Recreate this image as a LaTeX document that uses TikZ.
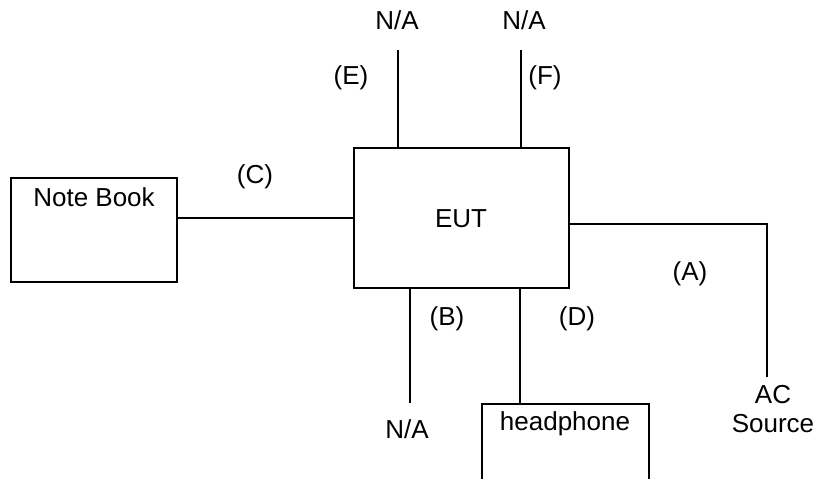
\documentclass[tikz,border=0pt]{standalone}
\usepackage{fontspec}
\setmainfont{Liberation Sans}
\usetikzlibrary{positioning}

\begin{document}
\begin{tikzpicture}[x=1pt, y=-1pt, line width=2pt,
    txt/.style={inner sep=0pt, anchor=base, font=\fontsize{26}{29}\selectfont},
    box/.style={draw, inner sep=0pt}]
    \useasboundingbox (0,0) rectangle (817,479);
    % boxes
    \node[box, minimum width=166pt, minimum height=104pt] (nb) at (94,230) {};
    \node[box, minimum width=215pt, minimum height=140pt] (eut) at (461.5,217.5) {};
    \node[box, minimum width=167pt, minimum height=100pt, anchor=north] (hp) at (565.5,403) {};
    % free ends of the cables
    \coordinate (e) at (398,50);
    \coordinate (f) at (521,50);
    \coordinate (b) at (410,403);
    \coordinate (ac) at (767,224);
    \coordinate (acend) at (767,377);
    % cables
    \draw (nb.east |- eut.west) -- (eut.west);
    \draw (eut.north -| e) -- (e);
    \draw (eut.north -| f) -- (f);
    \draw (eut.south -| b) -- (b);
    \draw (eut.south -| 520,0) -- (hp.north -| 520,0);
    \draw (eut.east |- ac) -- (ac) -- (acend);
    % texts
    \node[txt] (nbtxt) at (94,206) {Note Book};
    \node[txt] (euttxt) at (461,227) {EUT};
    \node[txt] (hptxt) at (565,430) {headphone};
    \node[txt] (nae) at (397,30) {N/A};
    \node[txt] (naf) at (524,30) {N/A};
    \node[txt] (nab) at (407,438) {N/A};
    \node[txt] (lble) at (351,84) {(E)};
    \node[txt] (lblf) at (545,84) {(F)};
    \node[txt] (lblc) at (255,183) {(C)};
    \node[txt] (lbla) at (690,280) {(A)};
    \node[txt] (lblb) at (447,325) {(B)};
    \node[txt] (lbld) at (577,325) {(D)};
    \node[txt, align=center] (acsrc) at (773,432) {AC\\Source};
  \end{tikzpicture}
\end{document}
